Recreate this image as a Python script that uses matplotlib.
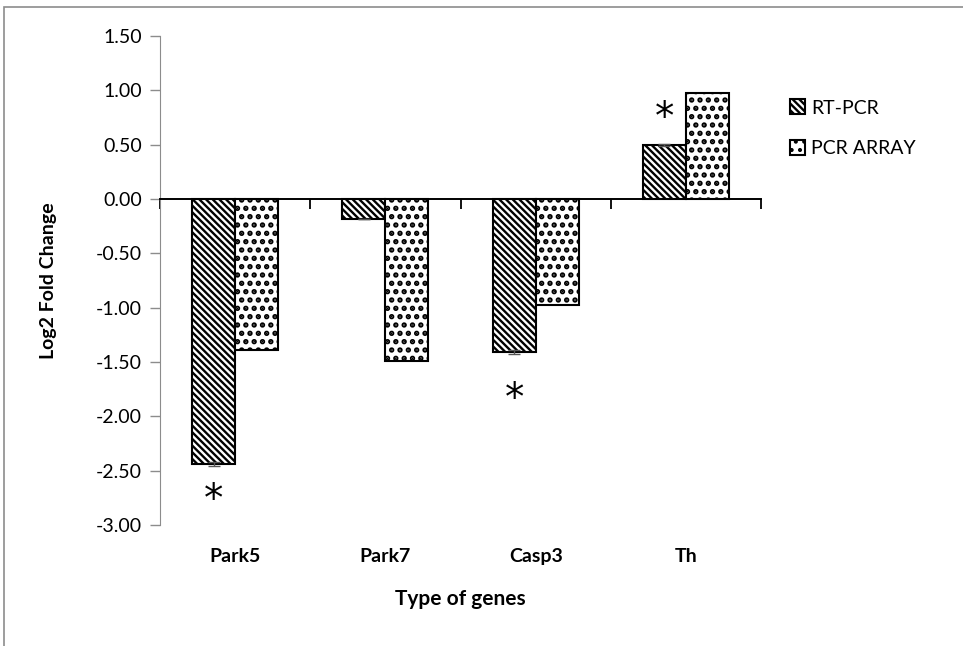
import numpy as np
import matplotlib
matplotlib.use('Agg')
import matplotlib.pyplot as plt
from matplotlib.patches import Rectangle
from matplotlib.transforms import blended_transform_factory

plt.rcParams['font.family'] = ['Lato', 'DejaVu Sans']
plt.rcParams['hatch.linewidth'] = 1.7

genes = ['Park5', 'Park7', 'Casp3', 'Th']
rt_pcr = [-2.44, -0.18, -1.41, 0.50]
rt_err = [0.02, 0.0, 0.02, 0.01]
pcr_array = [-1.39, -1.49, -0.98, 0.98]
# asterisk positions (significance marks on RT-PCR)
star_y = [-2.77, None, -1.84, 0.75]
yticks = [1.5, 1.0, 0.5, 0.0, -0.5, -1.0, -1.5, -2.0, -2.5, -3.0]

fig = plt.figure(figsize=(9.63, 6.46), dpi=100)
fig.patches.append(Rectangle((4 / 963, -0.1), 1.1, 1 - 7 / 646 + 0.1, transform=fig.transFigure,
                             fill=False, edgecolor='#8c8c8c', linewidth=1.2))

ax = fig.add_axes([160 / 963, 1 - 525 / 646, 601 / 963, (525 - 36) / 646])

x = np.arange(len(genes)) + 0.5
w = 0.287
ax.bar(x - w / 2, rt_pcr, w, color='white', edgecolor='black', hatch='\\' * 5,
       linewidth=1.5, yerr=rt_err, error_kw=dict(ecolor='#555555', capsize=4, elinewidth=1),
       label='RT-PCR')
dots = ax.bar(x + w / 2, pcr_array, w, color='white', edgecolor='black', hatch='..',
              linewidth=1.5, label='PCR ARRAY')
for p in dots:
    try:
        p.set_hatch_linewidth(2.6)
    except AttributeError:
        pass

for xi, sy in zip(x, star_y):
    if sy is not None:
        ax.text(xi - w / 2, sy, '*', ha='center', va='center', fontsize=28,
                family='DejaVu Sans')

ax.set_xlim(0, 4)
ax.set_ylim(-3.0, 1.5)
ax.set_yticks(yticks)
ax.set_yticklabels(['%.2f' % v for v in yticks], fontsize=14)
ax.set_xticks(np.arange(5))
ax.set_xticklabels([])
ax.tick_params(axis='x', direction='out', length=7, width=1.3, color='black')
ax.tick_params(axis='y', direction='out', length=7, width=1, color='#8c8c8c', pad=6)

trans = blended_transform_factory(ax.transData, ax.transAxes)
for xi, g in zip(x, genes):
    ax.text(xi, -0.065, g, transform=trans, ha='center', va='center', fontsize=14, fontweight='bold')

ax.spines['top'].set_visible(False)
ax.spines['right'].set_visible(False)
ax.spines['bottom'].set_position(('data', 0))
ax.spines['bottom'].set_linewidth(1.4)
ax.spines['left'].set_color('#8c8c8c')

ax.set_ylabel('Log2 Fold Change', fontsize=14, fontweight='bold')
ax.yaxis.set_label_coords(-0.172, 0.5)
fig.text(460 / 963, 1 - 599 / 646, 'Type of genes', ha='center', va='center',
         fontsize=15, fontweight='bold')

leg = fig.legend(loc='upper left', bbox_to_anchor=(772 / 963, 1 - 82 / 646), frameon=False,
                 fontsize=14, handlelength=0.8, handleheight=0.8, handletextpad=0.3,
                 labelspacing=1.2)

fig.savefig('out.png', dpi=100)
